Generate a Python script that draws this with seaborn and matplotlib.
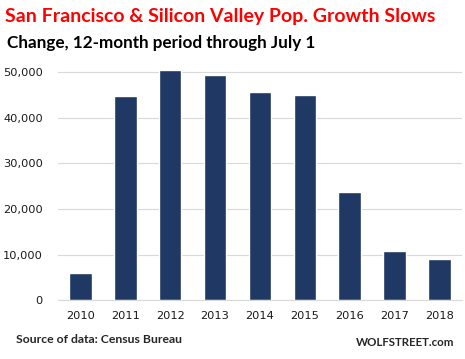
import numpy as np
import pandas as pd
import seaborn as sns
import matplotlib.pyplot as plt
from matplotlib.ticker import FuncFormatter

years = ['2010', '2011', '2012', '2013', '2014', '2015', '2016', '2017', '2018']
growth = [5900, 44700, 50400, 49300, 45600, 45000, 23700, 10700, 9000]

df = pd.DataFrame({'year': years, 'growth': growth})

sns.set_style('white')
plt.rcParams['font.family'] = ['DejaVu Sans']

fig = plt.figure(figsize=(4.65, 3.59), dpi=100)
ax = fig.add_axes([0.125, 0.164, 0.868, 0.663])

sns.barplot(ax=ax, data=df, x='year', y='growth', color='#203864',
            saturation=1, width=0.5)

ax.set_ylim(0, 52200)
ax.set_yticks([0, 10000, 20000, 30000, 40000, 50000])
ax.yaxis.set_major_formatter(FuncFormatter(lambda v, p: f'{int(v):,}'))
ax.grid(axis='y', color='#d9d9d9', linewidth=0.8)
ax.set_axisbelow(True)
for s in ['top', 'right', 'left']:
    ax.spines[s].set_visible(False)
ax.spines['bottom'].set_color('#d9d9d9')
ax.tick_params(axis='both', length=0, labelsize=8.2, colors='#1a1a1a')
ax.tick_params(axis='x', pad=8)
ax.tick_params(axis='y', pad=11)
ax.set_xlabel('')
ax.set_ylabel('')

fig.text(0.011, 0.955, 'San Francisco & Silicon Valley Pop. Growth Slows',
         color='#ff0000', fontsize=14, fontweight='bold', family='Lato', va='center')
fig.text(0.015, 0.88, 'Change, 12-month period through July 1',
         color='black', fontsize=12.3, fontweight='bold', family='Lato', va='center')
fig.text(0.034, 0.054, 'Source of data: Census Bureau',
         fontsize=8.8, fontweight='bold', family='Lato', va='center')
fig.text(0.978, 0.045, 'WOLFSTREET.com',
         fontsize=8.3, fontweight='bold', family='Lato', va='center', ha='right')

fig.savefig('out.png', dpi=100)
